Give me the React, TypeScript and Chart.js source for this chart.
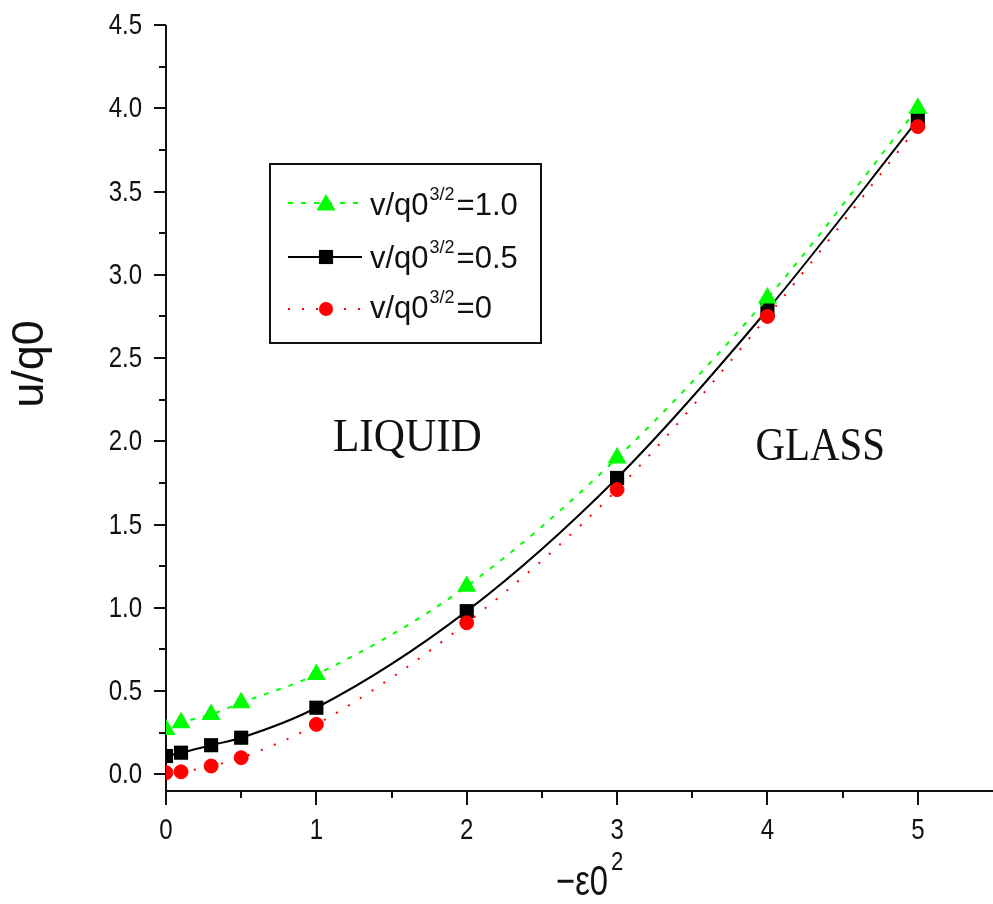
import { useEffect, useRef } from "react";
import { Chart, registerables } from "chart.js";
import { drawPoint } from "chart.js/helpers";

Chart.register(...registerables);

// -ε0² values where u/q0 was computed
const epsValues = [0, 0.1, 0.3, 0.5, 1, 2, 3, 4, 5];

// u/q0 for each v/q0^{3/2}
const uForV10 = [0.27, 0.31, 0.36, 0.43, 0.6, 1.13, 1.9, 2.86, 4.0];
const uForV05 = [0.11, 0.13, 0.175, 0.22, 0.4, 0.98, 1.78, 2.79, 3.93];
const uForV00 = [0.01, 0.015, 0.05, 0.1, 0.3, 0.91, 1.71, 2.75, 3.89];

const seriesValues = ["1.0", "0.5", "0"];

const xMajorTicks = [0, 1, 2, 3, 4, 5];
const xMinorTicks = [0.5, 1.5, 2.5, 3.5, 4.5];
const yMajorTicks = [0, 0.5, 1, 1.5, 2, 2.5, 3, 3.5, 4, 4.5];
const yMinorTicks = [0.25, 0.75, 1.25, 1.75, 2.25, 2.75, 3.25, 3.75, 4.25];

const SANS = '"Liberation Sans", Arial, Helvetica, sans-serif';
const SERIF = '"Liberation Serif", "Times New Roman", Times, serif';
const INK = "#111";

const W = 993;
const H = 904;

function narrowText(
  ctx: CanvasRenderingContext2D,
  text: string,
  x: number,
  y: number,
  font: string,
  align: "left" | "right" | "center",
  sx: number
) {
  ctx.save();
  ctx.font = font;
  ctx.textBaseline = "alphabetic";
  ctx.textAlign = "left";
  const w = ctx.measureText(text).width * sx;
  let left = x;
  if (align === "right") left = x - w;
  else if (align === "center") left = x - w / 2;
  ctx.translate(left, y);
  ctx.scale(sx, 1);
  ctx.fillStyle = INK;
  ctx.fillText(text, 0, 0);
  ctx.restore();
  return w;
}

const axesPlugin = {
  id: "originAxes",
  beforeDatasetsDraw(chart: any) {
    const { ctx, chartArea } = chart;
    const { left, right, top, bottom } = chartArea;
    const xs = chart.scales.x;
    const ys = chart.scales.y;
    ctx.save();
    ctx.strokeStyle = INK;
    ctx.lineWidth = 2;
    ctx.beginPath();
    ctx.moveTo(left, top);
    ctx.lineTo(left, bottom + 1);
    ctx.moveTo(left - 1, bottom);
    ctx.lineTo(right, bottom);
    ctx.stroke();

    ctx.beginPath();
    for (const v of yMajorTicks) {
      const py = Math.round(ys.getPixelForValue(v));
      ctx.moveTo(left - 12, py);
      ctx.lineTo(left, py);
    }
    for (const v of yMinorTicks) {
      const py = Math.round(ys.getPixelForValue(v));
      ctx.moveTo(left - 7, py);
      ctx.lineTo(left, py);
    }
    for (const v of xMajorTicks) {
      const px = Math.round(xs.getPixelForValue(v));
      ctx.moveTo(px, bottom);
      ctx.lineTo(px, bottom + 14);
    }
    for (const v of xMinorTicks) {
      const px = Math.round(xs.getPixelForValue(v));
      ctx.moveTo(px, bottom);
      ctx.lineTo(px, bottom + 7);
    }
    ctx.stroke();
    ctx.restore();

    const tickFont = `30px ${SANS}`;
    for (const v of yMajorTicks) {
      const py = ys.getPixelForValue(v);
      narrowText(ctx, v.toFixed(1), left - 24, py + 9, tickFont, "right", 0.8);
    }
    for (const v of xMajorTicks) {
      const px = xs.getPixelForValue(v);
      narrowText(ctx, String(v), px, bottom + 48, tickFont, "center", 0.8);
    }
  },
  afterDraw(chart: any) {
    const { ctx, chartArea } = chart;
    const xs = chart.scales.x;
    const ys = chart.scales.y;

    // axis titles
    ctx.save();
    ctx.translate(43, 364);
    ctx.rotate(-Math.PI / 2);
    ctx.font = `45px ${SANS}`;
    ctx.textAlign = "center";
    ctx.textBaseline = "alphabetic";
    ctx.fillStyle = INK;
    ctx.fillText("u/q0", 0, 0);
    ctx.restore();

    const titleLeft = 556;
    const titleBase = chartArea.bottom + 104;
    const wMain = narrowText(ctx, "\u2212\u03b50", titleLeft, titleBase, `42px ${SANS}`, "left", 0.78);
    narrowText(ctx, "2", titleLeft + wMain + 3, titleBase - 25, `26px ${SANS}`, "left", 0.85);

    // phase regions
    narrowText(ctx, "LIQUID", xs.getPixelForValue(1.11), ys.getPixelForValue(1.94), `46px ${SERIF}`, "left", 0.94);
    narrowText(ctx, "GLASS", xs.getPixelForValue(3.92), ys.getPixelForValue(1.89), `46px ${SERIF}`, "left", 0.89);

    // legend
    const box = { x: 270, y: 164, w: 271, h: 179 };
    ctx.save();
    ctx.fillStyle = "#fff";
    ctx.fillRect(box.x, box.y, box.w, box.h);
    ctx.strokeStyle = INK;
    ctx.lineWidth = 2;
    ctx.strokeRect(box.x, box.y, box.w, box.h);
    ctx.restore();

    const rows = [
      { ds: 0, y: 203, base: 215 },
      { ds: 2, y: 257, base: 268 },
      { ds: 1, y: 309, base: 318 },
    ];
    for (const row of rows) {
      const ds = chart.data.datasets[row.ds];
      ctx.save();
      ctx.strokeStyle = ds.borderColor;
      ctx.lineWidth = ds.borderWidth;
      ctx.setLineDash(ds.borderDash || []);
      ctx.beginPath();
      ctx.moveTo(288, row.y);
      ctx.lineTo(362, row.y);
      ctx.stroke();
      ctx.setLineDash([]);
      ctx.fillStyle = ds.pointBackgroundColor;
      ctx.strokeStyle = ds.pointBackgroundColor;
      ctx.lineWidth = 0;
      drawPoint(
        ctx,
        { pointStyle: ds.pointStyle, radius: ds.pointRadius, rotation: 0, borderWidth: 0 } as any,
        326,
        row.y + (ds.pointStyle === "triangle" ? 2 : 0)
      );
      ctx.restore();

      let tx = 370;
      tx += narrowText(ctx, "v/q0", tx, row.base, `31px ${SANS}`, "left", 1);
      tx += narrowText(ctx, "3/2", tx + 1, row.base - 15, `18px ${SANS}`, "left", 1) + 3;
      narrowText(ctx, "=" + ds.seriesValue, tx, row.base, `31px ${SANS}`, "left", 1);
    }
  },
};

function points(values: number[]) {
  return epsValues.map((x, i) => ({ x, y: values[i] }));
}

export default function App() {
  const canvasRef = useRef<HTMLCanvasElement>(null);

  useEffect(() => {
    const canvas = canvasRef.current;
    if (!canvas) return;
    const chart = new Chart(canvas, {
      type: "line",
      data: {
        datasets: [
          {
            label: "v/q0^3/2=" + seriesValues[0],
            seriesValue: seriesValues[0],
            data: points(uForV10),
            borderColor: "#00ff00",
            borderWidth: 2,
            borderDash: [5, 8],
            pointStyle: "triangle",
            pointRadius: 11,
            pointBackgroundColor: "#00ff00",
            pointBorderColor: "#00ff00",
            pointBorderWidth: 0,
            cubicInterpolationMode: "monotone",
          } as any,
          {
            label: "v/q0^3/2=" + seriesValues[2],
            seriesValue: seriesValues[2],
            data: points(uForV00),
            borderColor: "#ff0000",
            borderWidth: 2,
            borderDash: [2, 12],
            pointStyle: "circle",
            pointRadius: 7,
            pointBackgroundColor: "#ff0000",
            pointBorderColor: "#ff0000",
            pointBorderWidth: 1,
            cubicInterpolationMode: "monotone",
          } as any,
          {
            label: "v/q0^3/2=" + seriesValues[1],
            seriesValue: seriesValues[1],
            data: points(uForV05),
            borderColor: "#000000",
            borderWidth: 2,
            pointStyle: "rect",
            pointRadius: 10,
            pointBackgroundColor: "#000000",
            pointBorderColor: "#000000",
            pointBorderWidth: 0,
            cubicInterpolationMode: "monotone",
          } as any,
        ],
      },
      options: {
        responsive: false,
        animation: false,
        devicePixelRatio: 1,
        layout: { autoPadding: false, padding: { top: 25, right: 0, bottom: 0, left: 0 } },
        plugins: { legend: { display: false }, tooltip: { enabled: false } },
        events: [],
        scales: {
          x: {
            type: "linear",
            min: 0,
            max: 5.5,
            grid: { display: false },
            border: { display: false },
            ticks: { display: false },
            afterFit(scale: any) {
              scale.height = H - 791;
            },
          },
          y: {
            type: "linear",
            min: -0.1,
            max: 4.5,
            grid: { display: false },
            border: { display: false },
            ticks: { display: false },
            afterFit(scale: any) {
              scale.width = 166;
            },
          },
        },
      },
      plugins: [axesPlugin],
    });
    return () => chart.destroy();
  }, []);

  return (
    <div style={{ position: "fixed", left: 0, top: 0, width: W, height: H, background: "#fff" }}>
      <canvas ref={canvasRef} width={W} height={H} style={{ display: "block" }} />
    </div>
  );
}
